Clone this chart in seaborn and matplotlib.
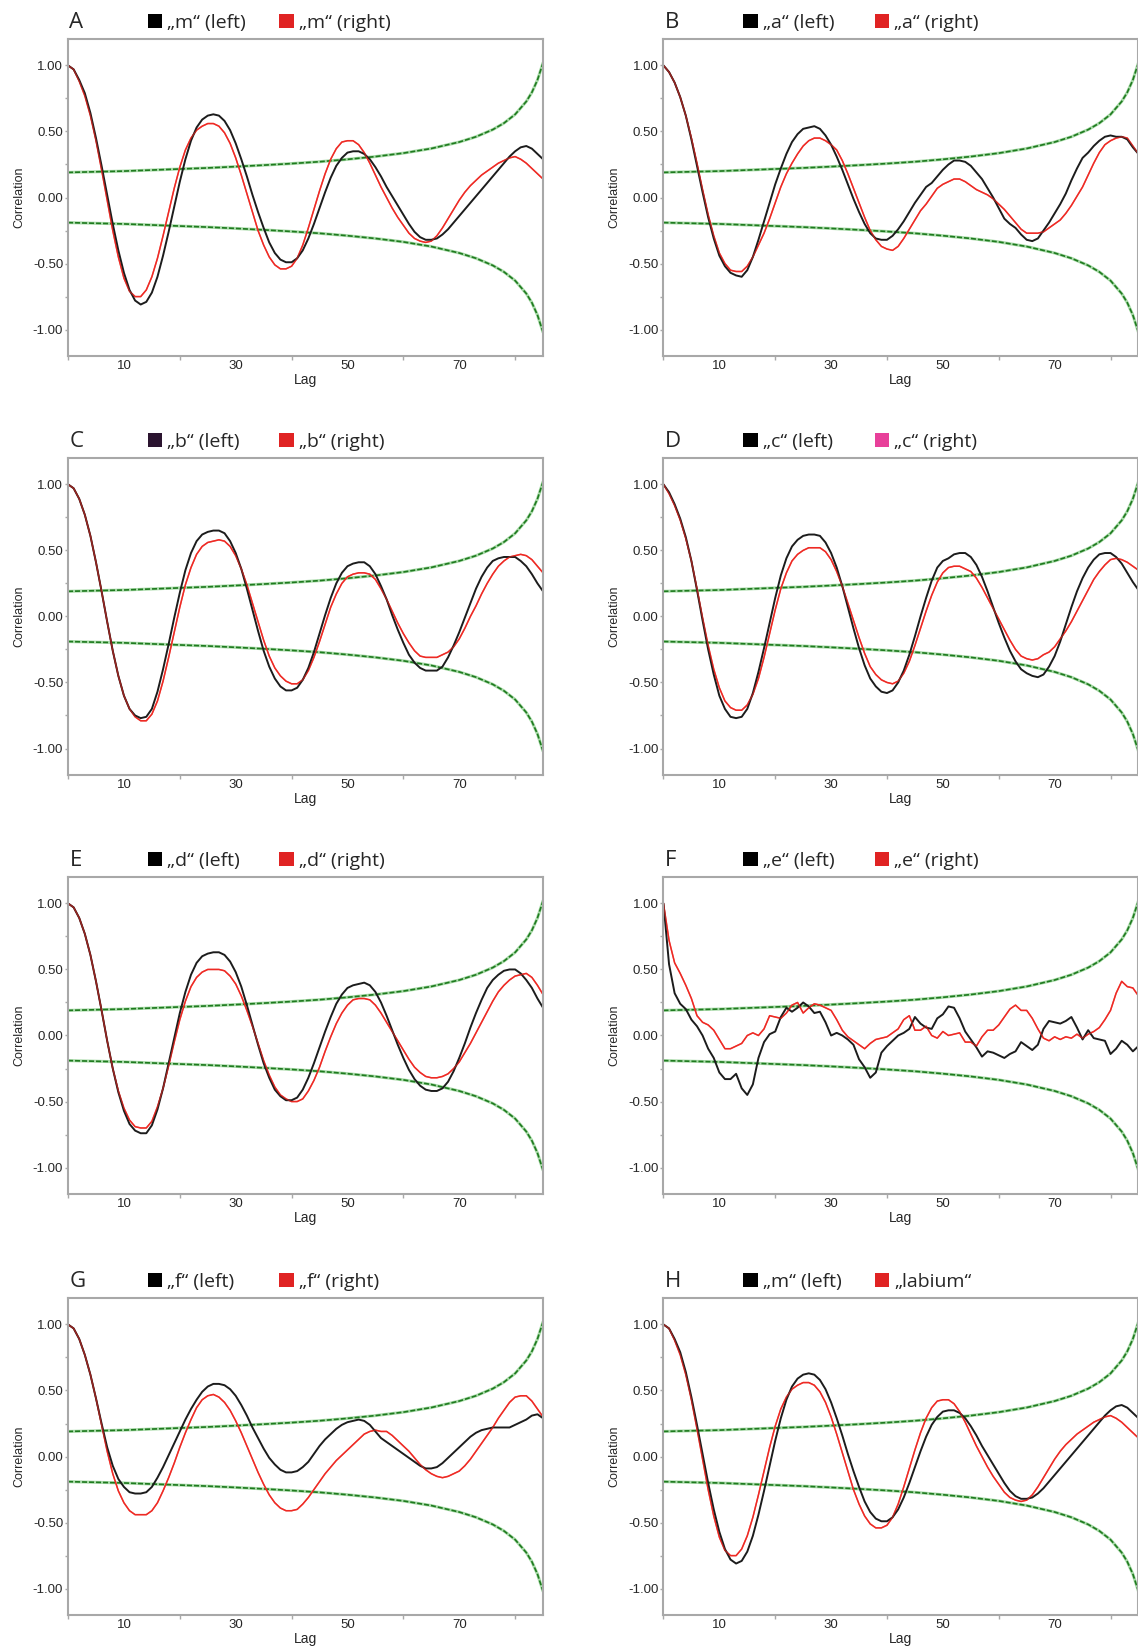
import matplotlib
matplotlib.use("Agg")
import matplotlib.pyplot as plt
from matplotlib.patches import Patch
import seaborn as sns

# every lag 0..85
LAGS = list(range(0, 86))

A_LEFT = [1.00, 0.97, 0.89, 0.79, 0.64, 0.45, 0.24, 0.02, -0.20, -0.40,
          -0.57, -0.70, -0.78, -0.81, -0.79, -0.72, -0.60, -0.44, -0.26, -0.07,
          0.12, 0.29, 0.43, 0.53, 0.59, 0.62, 0.63, 0.62, 0.58, 0.51,
          0.41, 0.29, 0.16, 0.02, -0.11, -0.23, -0.34, -0.42, -0.47, -0.49,
          -0.49, -0.46, -0.40, -0.31, -0.20, -0.08, 0.04, 0.15, 0.24, 0.30,
          0.34, 0.35, 0.35, 0.33, 0.29, 0.23, 0.16, 0.08, 0.01, -0.06,
          -0.13, -0.20, -0.26, -0.30, -0.32, -0.32, -0.31, -0.28, -0.24, -0.19,
          -0.14, -0.09, -0.04, 0.01, 0.06, 0.11, 0.16, 0.21, 0.26, 0.31,
          0.35, 0.38, 0.39, 0.37, 0.33, 0.29]
A_RIGHT = [1.00, 0.97, 0.88, 0.77, 0.62, 0.43, 0.21, -0.02, -0.25, -0.45,
           -0.61, -0.71, -0.75, -0.75, -0.70, -0.60, -0.46, -0.29, -0.11, 0.07,
           0.23, 0.36, 0.45, 0.51, 0.54, 0.56, 0.56, 0.54, 0.49, 0.41,
           0.30, 0.17, 0.03, -0.11, -0.25, -0.36, -0.45, -0.51, -0.54, -0.54,
           -0.52, -0.46, -0.36, -0.23, -0.09, 0.05, 0.18, 0.29, 0.37, 0.42,
           0.43, 0.43, 0.40, 0.34, 0.26, 0.17, 0.08, 0.00, -0.08, -0.15,
           -0.21, -0.27, -0.31, -0.33, -0.34, -0.33, -0.29, -0.23, -0.16, -0.09,
           -0.02, 0.04, 0.09, 0.13, 0.17, 0.20, 0.23, 0.26, 0.28, 0.30,
           0.31, 0.29, 0.26, 0.22, 0.18, 0.14]

B_LEFT = [1.00, 0.95, 0.87, 0.76, 0.62, 0.44, 0.24, 0.04, -0.15, -0.31,
          -0.44, -0.52, -0.57, -0.59, -0.60, -0.55, -0.45, -0.32, -0.18, -0.04,
          0.10, 0.22, 0.33, 0.42, 0.48, 0.52, 0.53, 0.54, 0.52, 0.47,
          0.40, 0.31, 0.21, 0.10, -0.01, -0.11, -0.20, -0.27, -0.31, -0.32,
          -0.32, -0.29, -0.24, -0.18, -0.11, -0.04, 0.02, 0.08, 0.11, 0.16,
          0.21, 0.25, 0.28, 0.28, 0.27, 0.24, 0.19, 0.14, 0.07, 0.00,
          -0.08, -0.16, -0.20, -0.23, -0.28, -0.32, -0.33, -0.31, -0.25, -0.19,
          -0.12, -0.05, 0.03, 0.13, 0.22, 0.30, 0.34, 0.39, 0.43, 0.46,
          0.47, 0.46, 0.46, 0.44, 0.38, 0.33]
B_RIGHT = [1.00, 0.95, 0.87, 0.76, 0.62, 0.45, 0.26, 0.06, -0.13, -0.29,
           -0.42, -0.50, -0.55, -0.56, -0.56, -0.52, -0.45, -0.36, -0.27, -0.16,
           -0.04, 0.08, 0.18, 0.26, 0.33, 0.39, 0.43, 0.45, 0.45, 0.43,
           0.40, 0.36, 0.28, 0.18, 0.07, -0.04, -0.15, -0.25, -0.32, -0.37,
           -0.39, -0.40, -0.37, -0.31, -0.24, -0.17, -0.10, -0.05, 0.01, 0.07,
           0.10, 0.12, 0.14, 0.14, 0.12, 0.09, 0.06, 0.04, 0.02, -0.01,
           -0.05, -0.09, -0.14, -0.19, -0.24, -0.27, -0.27, -0.27, -0.26, -0.23,
           -0.20, -0.17, -0.12, -0.06, 0.01, 0.08, 0.17, 0.26, 0.34, 0.40,
           0.43, 0.45, 0.46, 0.45, 0.39, 0.33]

C_LEFT = [1.00, 0.97, 0.89, 0.77, 0.61, 0.41, 0.19, -0.04, -0.26, -0.45,
          -0.60, -0.70, -0.75, -0.77, -0.76, -0.70, -0.57, -0.40, -0.21, -0.01,
          0.18, 0.35, 0.48, 0.57, 0.62, 0.64, 0.65, 0.65, 0.63, 0.57,
          0.48, 0.36, 0.21, 0.05, -0.11, -0.26, -0.38, -0.47, -0.53, -0.56,
          -0.56, -0.54, -0.48, -0.39, -0.27, -0.13, 0.01, 0.14, 0.25, 0.33,
          0.38, 0.40, 0.41, 0.41, 0.38, 0.32, 0.23, 0.13, 0.01, -0.10,
          -0.20, -0.29, -0.35, -0.39, -0.41, -0.41, -0.41, -0.38, -0.31, -0.22,
          -0.12, -0.01, 0.10, 0.21, 0.30, 0.37, 0.42, 0.44, 0.45, 0.45,
          0.45, 0.42, 0.38, 0.32, 0.25, 0.19]
C_RIGHT = [1.00, 0.97, 0.89, 0.77, 0.61, 0.41, 0.19, -0.04, -0.26, -0.45,
           -0.60, -0.70, -0.76, -0.79, -0.79, -0.74, -0.64, -0.49, -0.31, -0.12,
           0.07, 0.24, 0.37, 0.47, 0.53, 0.56, 0.57, 0.58, 0.57, 0.53,
           0.46, 0.36, 0.24, 0.10, -0.04, -0.18, -0.30, -0.39, -0.45, -0.49,
           -0.51, -0.51, -0.48, -0.41, -0.31, -0.19, -0.06, 0.07, 0.17, 0.25,
           0.30, 0.32, 0.33, 0.33, 0.32, 0.28, 0.21, 0.13, 0.04, -0.05,
           -0.13, -0.20, -0.26, -0.30, -0.31, -0.31, -0.31, -0.29, -0.27, -0.23,
           -0.17, -0.09, 0.00, 0.08, 0.17, 0.25, 0.32, 0.38, 0.42, 0.45,
           0.46, 0.47, 0.46, 0.43, 0.38, 0.33]

D_LEFT = [1.00, 0.94, 0.85, 0.74, 0.60, 0.42, 0.20, -0.03, -0.25, -0.44,
          -0.60, -0.70, -0.76, -0.77, -0.76, -0.70, -0.58, -0.42, -0.24, -0.05,
          0.14, 0.31, 0.44, 0.53, 0.58, 0.61, 0.62, 0.62, 0.61, 0.56,
          0.48, 0.37, 0.23, 0.07, -0.09, -0.24, -0.37, -0.47, -0.53, -0.57,
          -0.58, -0.56, -0.50, -0.41, -0.29, -0.15, 0.00, 0.14, 0.27, 0.37,
          0.42, 0.44, 0.47, 0.48, 0.48, 0.45, 0.39, 0.30, 0.19, 0.07,
          -0.05, -0.16, -0.26, -0.34, -0.40, -0.43, -0.45, -0.46, -0.44, -0.38,
          -0.30, -0.19, -0.06, 0.07, 0.19, 0.29, 0.37, 0.43, 0.47, 0.48,
          0.48, 0.45, 0.40, 0.33, 0.26, 0.20]
D_RIGHT = [1.00, 0.93, 0.84, 0.73, 0.59, 0.42, 0.21, -0.01, -0.22, -0.40,
           -0.54, -0.64, -0.69, -0.71, -0.71, -0.67, -0.59, -0.47, -0.31, -0.13,
           0.05, 0.21, 0.33, 0.42, 0.47, 0.50, 0.52, 0.52, 0.52, 0.49,
           0.43, 0.34, 0.23, 0.10, -0.03, -0.16, -0.28, -0.38, -0.44, -0.48,
           -0.50, -0.51, -0.49, -0.43, -0.34, -0.22, -0.09, 0.04, 0.16, 0.26,
           0.33, 0.37, 0.38, 0.38, 0.36, 0.34, 0.29, 0.22, 0.14, 0.06,
           -0.02, -0.10, -0.18, -0.25, -0.30, -0.32, -0.33, -0.32, -0.29, -0.27,
           -0.23, -0.17, -0.11, -0.04, 0.04, 0.12, 0.20, 0.28, 0.34, 0.39,
           0.43, 0.44, 0.43, 0.41, 0.38, 0.35]

E_LEFT = [1.00, 0.97, 0.89, 0.77, 0.61, 0.41, 0.19, -0.04, -0.25, -0.43,
          -0.57, -0.67, -0.72, -0.74, -0.74, -0.68, -0.56, -0.40, -0.21, -0.02,
          0.17, 0.33, 0.46, 0.55, 0.60, 0.62, 0.63, 0.63, 0.61, 0.56,
          0.48, 0.37, 0.23, 0.08, -0.07, -0.21, -0.32, -0.41, -0.46, -0.49,
          -0.49, -0.47, -0.41, -0.32, -0.21, -0.09, 0.03, 0.14, 0.24, 0.31,
          0.36, 0.38, 0.39, 0.40, 0.38, 0.33, 0.25, 0.15, 0.04, -0.07,
          -0.17, -0.26, -0.33, -0.38, -0.41, -0.42, -0.42, -0.40, -0.35, -0.27,
          -0.17, -0.06, 0.06, 0.17, 0.27, 0.36, 0.42, 0.46, 0.49, 0.50,
          0.50, 0.47, 0.42, 0.36, 0.28, 0.21]
E_RIGHT = [1.00, 0.97, 0.89, 0.77, 0.61, 0.41, 0.19, -0.04, -0.25, -0.42,
           -0.55, -0.64, -0.69, -0.70, -0.70, -0.65, -0.54, -0.40, -0.23, -0.05,
           0.12, 0.26, 0.37, 0.44, 0.48, 0.50, 0.50, 0.50, 0.49, 0.45,
           0.39, 0.30, 0.19, 0.07, -0.06, -0.19, -0.30, -0.39, -0.45, -0.48,
           -0.50, -0.50, -0.48, -0.42, -0.34, -0.24, -0.12, -0.01, 0.09, 0.17,
           0.23, 0.27, 0.28, 0.28, 0.27, 0.23, 0.17, 0.10, 0.03, -0.04,
           -0.11, -0.18, -0.24, -0.28, -0.31, -0.32, -0.32, -0.31, -0.29, -0.25,
           -0.20, -0.13, -0.06, 0.02, 0.10, 0.18, 0.26, 0.33, 0.38, 0.42,
           0.45, 0.46, 0.47, 0.44, 0.38, 0.31]

F_LEFT = [1.00, 0.54, 0.32, 0.24, 0.20, 0.12, 0.07, 0.00, -0.10, -0.17,
          -0.28, -0.33, -0.33, -0.29, -0.40, -0.45, -0.37, -0.17, -0.05, 0.01,
          0.03, 0.14, 0.21, 0.18, 0.21, 0.25, 0.22, 0.17, 0.18, 0.10,
          0.00, 0.02, 0.00, -0.03, -0.07, -0.18, -0.24, -0.32, -0.28, -0.13,
          -0.08, -0.04, 0.00, 0.02, 0.05, 0.14, 0.09, 0.06, 0.05, 0.13,
          0.16, 0.22, 0.21, 0.13, 0.03, -0.03, -0.09, -0.16, -0.12, -0.13,
          -0.15, -0.17, -0.14, -0.12, -0.05, -0.08, -0.11, -0.07, 0.05, 0.11,
          0.10, 0.09, 0.11, 0.14, 0.06, -0.03, 0.04, -0.02, -0.03, -0.04,
          -0.14, -0.10, -0.04, -0.07, -0.12, -0.08]
F_RIGHT = [1.00, 0.72, 0.55, 0.47, 0.38, 0.28, 0.15, 0.10, 0.08, 0.04,
           -0.03, -0.10, -0.10, -0.08, -0.06, 0.00, 0.02, 0.00, 0.05, 0.15,
           0.14, 0.13, 0.17, 0.23, 0.25, 0.17, 0.21, 0.24, 0.23, 0.21,
           0.19, 0.12, 0.04, -0.01, -0.04, -0.07, -0.10, -0.06, -0.03, -0.02,
           -0.01, 0.02, 0.05, 0.12, 0.15, 0.04, 0.04, 0.07, 0.00, -0.02,
           0.03, 0.00, 0.01, 0.02, -0.05, -0.05, -0.08, -0.01, 0.04, 0.04,
           0.08, 0.14, 0.20, 0.23, 0.19, 0.19, 0.13, 0.05, -0.02, -0.04,
           -0.01, -0.03, -0.01, -0.02, 0.01, -0.02, 0.01, 0.03, 0.06, 0.12,
           0.19, 0.32, 0.41, 0.37, 0.36, 0.30]

G_LEFT = [1.00, 0.97, 0.89, 0.77, 0.62, 0.44, 0.25, 0.07, -0.07, -0.17,
          -0.23, -0.27, -0.28, -0.28, -0.27, -0.23, -0.16, -0.08, 0.01, 0.10,
          0.19, 0.28, 0.36, 0.43, 0.49, 0.53, 0.55, 0.55, 0.54, 0.51,
          0.46, 0.39, 0.31, 0.22, 0.14, 0.06, -0.01, -0.06, -0.10, -0.12,
          -0.12, -0.11, -0.08, -0.04, 0.02, 0.08, 0.13, 0.17, 0.21, 0.24,
          0.26, 0.27, 0.28, 0.27, 0.24, 0.19, 0.14, 0.11, 0.08, 0.05,
          0.02, -0.01, -0.04, -0.07, -0.09, -0.09, -0.08, -0.05, -0.01, 0.03,
          0.07, 0.11, 0.15, 0.18, 0.20, 0.21, 0.22, 0.22, 0.22, 0.22,
          0.24, 0.26, 0.28, 0.31, 0.32, 0.29]
G_RIGHT = [1.00, 0.97, 0.89, 0.77, 0.62, 0.44, 0.24, 0.04, -0.13, -0.26,
           -0.35, -0.41, -0.44, -0.44, -0.44, -0.41, -0.35, -0.26, -0.16, -0.05,
           0.07, 0.18, 0.28, 0.37, 0.43, 0.46, 0.47, 0.45, 0.41, 0.35,
           0.27, 0.18, 0.08, -0.02, -0.12, -0.21, -0.29, -0.35, -0.39, -0.41,
           -0.41, -0.40, -0.36, -0.31, -0.25, -0.19, -0.13, -0.08, -0.03, 0.01,
           0.05, 0.09, 0.13, 0.17, 0.19, 0.20, 0.19, 0.19, 0.16, 0.12,
           0.08, 0.04, -0.01, -0.06, -0.10, -0.13, -0.15, -0.16, -0.15, -0.13,
           -0.11, -0.07, -0.02, 0.04, 0.10, 0.16, 0.22, 0.29, 0.35, 0.41,
           0.45, 0.46, 0.46, 0.42, 0.36, 0.30]

# panel H shows the same "m" (left) series against the labium series
H_LEFT = A_LEFT
H_RIGHT = A_RIGHT

# confidence band
BAND_LAGS = [0, 5, 10, 15, 20, 25, 30, 35, 40, 45, 50, 55, 60, 65, 70, 73, 76, 78, 80, 82, 83, 84, 85]
BAND_UPPER = [0.19, 0.195, 0.20, 0.208, 0.216, 0.224, 0.234, 0.245, 0.257, 0.271, 0.289, 0.31, 0.336,
              0.371, 0.42, 0.46, 0.514, 0.563, 0.629, 0.727, 0.796, 0.89, 1.02]
BAND_LOWER = [-v for v in BAND_UPPER]

PANELS = ["A", "B", "C", "D", "E", "F", "G", "H"]
LEFT_LABELS = ["„m“ (left)", "„a“ (left)", "„b“ (left)", "„c“ (left)",
               "„d“ (left)", "„e“ (left)", "„f“ (left)", "„m“ (left)"]
RIGHT_LABELS = ["„m“ (right)", "„a“ (right)", "„b“ (right)", "„c“ (right)",
                "„d“ (right)", "„e“ (right)", "„f“ (right)", "„labium“"]
LEFT_SERIES = [A_LEFT, B_LEFT, C_LEFT, D_LEFT, E_LEFT, F_LEFT, G_LEFT, H_LEFT]
RIGHT_SERIES = [A_RIGHT, B_RIGHT, C_RIGHT, D_RIGHT, E_RIGHT, F_RIGHT, G_RIGHT, H_RIGHT]
LEFT_SWATCH = ["#000000", "#000000", "#2b1430", "#000000", "#000000", "#000000", "#000000", "#000000"]
RIGHT_SWATCH = ["#e02323", "#e02323", "#e02323", "#e8409a", "#e02323", "#e02323", "#e02323", "#e02323"]

sns.set_style("white")
plt.rcParams["font.family"] = ["Liberation Sans", "DejaVu Sans"]

fig = plt.figure(figsize=(11.38, 16.46), dpi=100)

row_bottom = [0.7837, 0.5292, 0.2746, 0.0188]
col_left = [0.0598, 0.583]
ax_w, ax_h = 0.4174, 0.1926
SPINE = "#a8a8a8"
LEG_FONT = {"family": ["Open Sans", "DejaVu Sans"], "size": 14}

for i, name in enumerate(PANELS):
    r, c = divmod(i, 2)
    ax = fig.add_axes([col_left[c], row_bottom[r], ax_w, ax_h])

    # confidence band: light halo + dark dashed line
    for band in (BAND_UPPER, BAND_LOWER):
        sns.lineplot(x=BAND_LAGS, y=band, ax=ax, color="#a9dba9", linewidth=2.2, estimator=None)
        sns.lineplot(x=BAND_LAGS, y=band, ax=ax, color="#1f7a1f", linewidth=1.2,
                     linestyle=(0, (3, 1.2)), estimator=None)

    sns.lineplot(x=LAGS, y=RIGHT_SERIES[i], ax=ax, color="#ee2a24", linewidth=1.1, estimator=None)
    sns.lineplot(x=LAGS, y=LEFT_SERIES[i], ax=ax, color="#1c1c1c", linewidth=1.4, estimator=None)
    # red drawn again lightly on top so both stay visible where they overlap
    sns.lineplot(x=LAGS, y=RIGHT_SERIES[i], ax=ax, color="#ee2a24", linewidth=1.0, alpha=0.6,
                 estimator=None)

    ax.set_xlim(0, 85)
    ax.set_ylim(-1.2, 1.2)

    # unlabeled ticks at 0,20,... and labels in between at 10,30,...
    ax.set_xticks([0, 20, 40, 60, 80])
    ax.set_xticklabels([])
    ax.set_xticks([10, 30, 50, 70], minor=True)
    ax.set_xticklabels(["10", "30", "50", "70"], minor=True)
    ax.tick_params(axis="x", which="major", length=3, width=1, color=SPINE, direction="out", bottom=True)
    ax.tick_params(axis="x", which="minor", length=0, pad=3, labelsize=9.5, bottom=True)

    ax.set_yticks([-1.0, -0.5, 0.0, 0.5, 1.0])
    ax.set_yticklabels(["-1.00", "-0.50", "0.00", "0.50", "1.00"])
    ax.set_yticks([-0.75, -0.25, 0.25, 0.75], minor=True)
    ax.tick_params(axis="y", which="both", length=2, width=1, color=SPINE, direction="out",
                   left=True, pad=1.5, labelsize=9.5)

    for sp in ax.spines.values():
        sp.set_color(SPINE)
        sp.set_linewidth(1.5)

    ax.set_xlabel("Lag", fontsize=10)
    ax.xaxis.set_label_coords(0.5, -0.055)
    ax.set_ylabel("Correlation", fontsize=9)
    ax.yaxis.set_label_coords(-0.09, 0.5)

    ax.text(0.003, 1.035, name, transform=ax.transAxes, fontsize=16,
            family=["Open Sans", "DejaVu Sans"], va="baseline", ha="left")

    leg1 = ax.legend(handles=[Patch(facecolor=LEFT_SWATCH[i], edgecolor="none")],
                     labels=[LEFT_LABELS[i]], loc="lower left", bbox_to_anchor=(0.168, 1.022),
                     frameon=False, borderpad=0, borderaxespad=0, handlelength=0.75,
                     handleheight=0.75, handletextpad=0.25, prop=LEG_FONT)
    ax.add_artist(leg1)
    ax.legend(handles=[Patch(facecolor=RIGHT_SWATCH[i], edgecolor="none")],
              labels=[RIGHT_LABELS[i]], loc="lower left", bbox_to_anchor=(0.445, 1.022),
              frameon=False, borderpad=0, borderaxespad=0, handlelength=0.75,
              handleheight=0.75, handletextpad=0.25, prop=LEG_FONT)

fig.savefig("out.png", dpi=100, facecolor="white")
